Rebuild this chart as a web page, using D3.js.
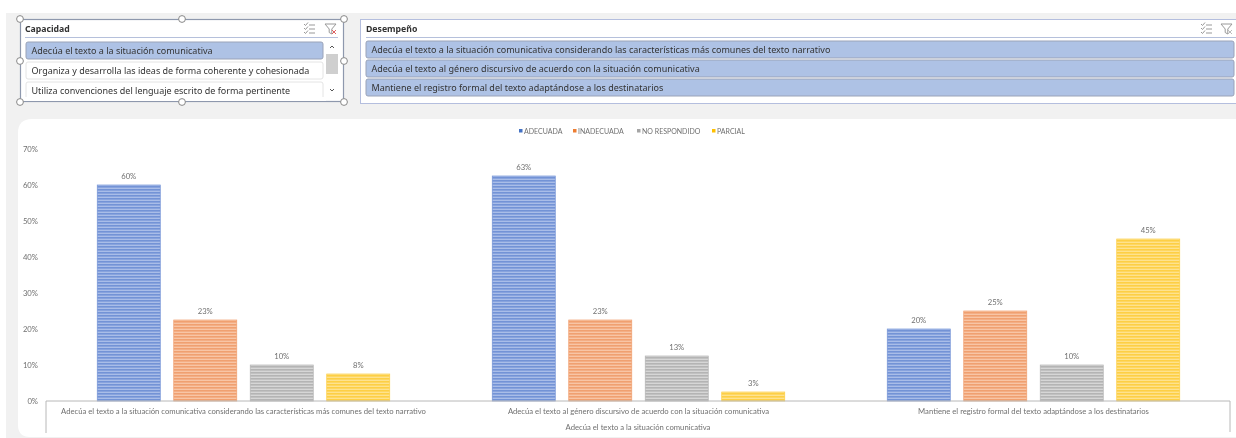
<!DOCTYPE html>
<html>
<head>
<meta charset="utf-8">
<script src="https://cdnjs.cloudflare.com/ajax/libs/d3/7.8.5/d3.min.js"></script>
<style>
  html, body { margin: 0; padding: 0; background: #fff; }
  svg { display: block; filter: blur(0.4px); }
  text { font-family: Lato, "Open Sans", sans-serif; }
</style>
</head>
<body>
<svg id="chart" width="1236" height="438"></svg>
<script>
// chart values
const categories = [
  "Adecúa el texto a la situación comunicativa considerando las características más comunes del texto narrativo",
  "Adecúa el texto al género discursivo de acuerdo con la situación comunicativa",
  "Mantiene el registro formal del texto adaptándose a los destinatarios"
];
const parentCategory = "Adecúa el texto a la situación comunicativa";
const seriesNames = ["ADECUADA", "INADECUADA", "NO RESPONDIDO", "PARCIAL"];
const adecuada = [60, 22.5, 10, 7.5];
const inadecuada = [62.5, 22.5, 12.5, 2.5];
const mantiene = [20, 25, 10, 45];
const groupValues = [adecuada, inadecuada, mantiene];
const yTicks = [0, 10, 20, 30, 40, 50, 60, 70];

// slicers
const capacidadTitle = "Capacidad";
const capacidadItems = [
  "Adecúa el texto a la situación comunicativa",
  "Organiza y desarrolla las ideas de forma coherente y cohesionada",
  "Utiliza convenciones del lenguaje escrito de forma pertinente"
];
const desempenoTitle = "Desempeño";

const colors = ["#7393d6", "#f0a070", "#b4b4b4", "#fdcf45"];
const lightColors = ["#a9bde8", "#f8c5a5", "#d6d6d6", "#fee28e"];
const legendColors = ["#4472c4", "#ed7d31", "#a5a5a5", "#ffc000"];
const legendSquareX = [519, 573, 637, 712];

const svg = d3.select("#chart");
const defs = svg.append("defs");

// striped fill of the bars
seriesNames.forEach((s, i) => {
  let p = defs.append("pattern")
    .attr("id", "stripe" + i)
    .attr("width", 6).attr("height", 3)
    .attr("patternUnits", "userSpaceOnUse");
  p.append("rect").attr("width", 6).attr("height", 3).attr("fill", lightColors[i]);
  p.append("rect").attr("width", 6).attr("height", 1.6).attr("fill", colors[i]);
});

// gray page behind everything
svg.append("rect").attr("x", 6).attr("y", 13).attr("width", 1230).attr("height", 425).attr("fill", "#f1f1f1");

// white chart card
svg.append("path")
  .attr("d", "M1236,119 H32 Q18,119 18,133 V425 Q18,437 30,437 H1236 Z")
  .attr("fill", "#fff");

const x0 = d3.scaleBand().domain(d3.range(categories.length)).range([46, 1231]);
const x1 = d3.scaleBand().domain(d3.range(seriesNames.length))
  .range([0, x0.bandwidth()]).paddingInner(0.176).paddingOuter(0.67);
const y = d3.scaleLinear().domain([0, 70]).range([401, 149]);

// y axis
const yAxis = d3.axisLeft(y).tickValues(yTicks).tickFormat(d => d + "%").tickSize(0).tickPadding(0);
const yG = svg.append("g").attr("transform", "translate(38,0)").call(yAxis);
yG.select(".domain").remove();
yG.selectAll("text").style("font-family", "Lato").style("font-size", "7.7px").attr("fill", "#707070");

// bars
const groups = svg.selectAll("g.group")
  .data(groupValues)
  .enter()
  .append("g")
  .attr("class", "group")
  .attr("transform", (d, i) => "translate(" + x0(i) + ",0)");

groups.selectAll("rect")
  .data(d => d)
  .enter()
  .append("rect")
  .attr("x", (d, i) => x1(i))
  .attr("y", d => y(d))
  .attr("width", x1.bandwidth())
  .attr("height", d => y(0) - y(d))
  .attr("fill", (d, i) => "url(#stripe" + i + ")")
  .attr("stroke", (d, i) => colors[i])
  .attr("stroke-width", 0.7);

// value labels
groups.selectAll("text.val")
  .data(d => d)
  .enter()
  .append("text")
  .attr("class", "val")
  .attr("x", (d, i) => x1(i) + x1.bandwidth() / 2)
  .attr("y", d => y(d) - 6.5)
  .attr("text-anchor", "middle")
  .attr("font-size", 7.7)
  .attr("fill", "#707070")
  .text(d => Math.round(d) + "%");

// bracket of the two level category axis
svg.append("path")
  .attr("d", "M" + x0.range()[0] + "," + 433 + " V" + y(0) + " H" + (x0.range()[1] - 1) + " V" + 432)
  .attr("fill", "none")
  .attr("stroke", "#b8b8b8");

svg.selectAll("text.cat")
  .data(categories)
  .enter()
  .append("text")
  .attr("class", "cat")
  .attr("x", (d, i) => x0(i) + x0.bandwidth() / 2)
  .attr("y", 414)
  .attr("text-anchor", "middle")
  .attr("font-size", 7.7)
  .attr("fill", "#707070")
  .text(d => d);

svg.append("text")
  .attr("x", 638).attr("y", 430)
  .attr("text-anchor", "middle")
  .attr("font-size", 7.7)
  .attr("fill", "#707070")
  .text(parentCategory);

// legend
seriesNames.forEach((s, i) => {
  svg.append("rect")
    .attr("x", legendSquareX[i]).attr("y", 129)
    .attr("width", 3.5).attr("height", 3.5)
    .attr("fill", legendColors[i]);
  svg.append("text")
    .attr("x", legendSquareX[i] + 5).attr("y", 133.5)
    .attr("font-size", 7)
    .attr("fill", "#707070")
    .text(s);
});

// small icons of the slicer header
function slicerIcons(ix, fx, clr) {
  let g = svg.append("g").attr("fill", "none").attr("stroke", "#999").attr("stroke-width", 1);
  [25, 29, 33].forEach(v => {
    g.append("path").attr("d", "M" + ix + "," + (v - 1) + " l1.5,1.5 l2.5,-3");
    g.append("path").attr("d", "M" + (ix + 5) + "," + v + " h6");
  });
  g.append("path").attr("d", "M" + fx + ",24 h11 l-4.2,5 v5 l-2.6,-1.5 v-3.5 Z");
  g.append("path").attr("d", "M" + (fx + 7) + ",30 l4,4 m0,-4 l-4,4").attr("stroke", clr);
}

function drawItem(text, x, yy, w, h, selected) {
  svg.append("rect")
    .attr("x", x).attr("y", yy).attr("width", w).attr("height", h).attr("rx", 2)
    .attr("fill", selected ? "#aec2e5" : "#fff")
    .attr("stroke", selected ? "#9aa3b8" : "#e4e4e4");
  svg.append("text")
    .attr("x", x + 5.5).attr("y", yy + h / 2 + 3.5)
    .style("font-family", "'Noto Sans', 'Open Sans', sans-serif")
    .attr("font-size", 9)
    .attr("fill", "#333")
    .text(text);
}

// left slicer
svg.append("rect").attr("x", 20.5).attr("y", 19.5).attr("width", 323).attr("height", 82)
  .attr("fill", "#fff").attr("stroke", "#8e98ad").attr("stroke-width", 1.2);
svg.append("text").attr("x", 25).attr("y", 32)
  .style("font-family", "'Noto Sans', sans-serif").attr("font-size", 8.7).attr("font-weight", 700).attr("fill", "#333")
  .text(capacidadTitle);
svg.append("line").attr("x1", 25).attr("x2", 338).attr("y1", 37.5).attr("y2", 37.5).attr("stroke", "#b5c0db");
slicerIcons(304, 325, "#e06060");
capacidadItems.forEach((t, i) => drawItem(t, 26, 42 + i * 20, 297, 17, i == 0));
// third item is cut off by the bottom of the slicer
svg.append("rect").attr("x", 24).attr("y", 97).attr("width", 302).attr("height", 4).attr("fill", "#fff");

// scroll bar of the left slicer
svg.append("rect").attr("x", 326).attr("y", 54).attr("width", 12).attr("height", 20).attr("fill", "#cfcfcf");
svg.append("path").attr("d", "M330,48 l2,-2 l2,2").attr("fill", "none").attr("stroke", "#555");
svg.append("path").attr("d", "M330,89 l2,2 l2,-2").attr("fill", "none").attr("stroke", "#555");

// resize handles
const handles = [[20, 19], [182, 19], [344, 19], [20, 61], [344, 61], [20, 102], [182, 102], [344, 102]];
svg.selectAll("circle.handle")
  .data(handles)
  .enter()
  .append("circle")
  .attr("class", "handle")
  .attr("cx", d => d[0]).attr("cy", d => d[1]).attr("r", 3.4)
  .attr("fill", "#fff").attr("stroke", "#888");

// right slicer
svg.append("rect").attr("x", 360.5).attr("y", 19.5).attr("width", 880).attr("height", 84)
  .attr("fill", "#fff").attr("stroke", "#b4bede");
svg.append("text").attr("x", 366).attr("y", 32)
  .style("font-family", "'Noto Sans', sans-serif").attr("font-size", 8.7).attr("font-weight", 700).attr("fill", "#333")
  .text(desempenoTitle);
svg.append("line").attr("x1", 366).attr("x2", 1236).attr("y1", 37.5).attr("y2", 37.5).attr("stroke", "#b5c0db");
slicerIcons(1201, 1221, "#bbb");
categories.forEach((t, i) => drawItem(t, 366, 41 + i * 19, 868, 17, true));
</script>
</body>
</html>
